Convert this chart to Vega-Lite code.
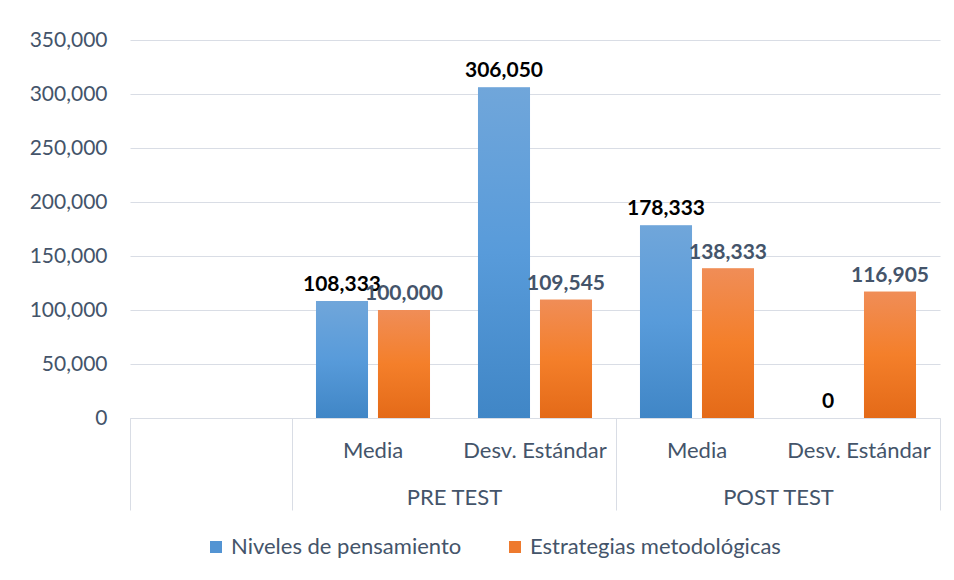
{
  "$schema": "https://vega.github.io/schema/vega-lite/v6.json",
  "width": 810,
  "height": 378,
  "autosize": {"type": "none"},
  "padding": {"left": 130, "top": 40, "right": 14, "bottom": 162},
  "background": "white",
  "config": {"font": "Lato", "view": {"stroke": null}},
  "data": {
    "values": [
      {"cat": "PRE TEST|Media", "series": "Niveles de pensamiento", "value": 108333},
      {"cat": "PRE TEST|Media", "series": "Estrategias metodológicas", "value": 100000},
      {"cat": "PRE TEST|Desv. Estándar", "series": "Niveles de pensamiento", "value": 306050},
      {"cat": "PRE TEST|Desv. Estándar", "series": "Estrategias metodológicas", "value": 109545},
      {"cat": "POST TEST|Media", "series": "Niveles de pensamiento", "value": 178333},
      {"cat": "POST TEST|Media", "series": "Estrategias metodológicas", "value": 138333},
      {"cat": "POST TEST|Desv. Estándar", "series": "Niveles de pensamiento", "value": 0},
      {"cat": "POST TEST|Desv. Estándar", "series": "Estrategias metodológicas", "value": 116905}
    ]
  },
  "resolve": {"axis": {"x": "independent"}},
  "layer": [
    {
      "mark": {"type": "bar"},
      "encoding": {
        "x": {
          "field": "cat", "type": "nominal", "sort": null,
          "scale": {"domain": ["|", "PRE TEST|Media", "PRE TEST|Desv. Estándar", "POST TEST|Media", "POST TEST|Desv. Estándar"], "paddingInner": 0, "paddingOuter": 0},
          "axis": {
            "orient": "bottom", "title": null, "grid": false, "ticks": false, "tickSize": 0,
            "domain": true, "domainColor": "#d9dde5", "domainWidth": 1,
            "labelExpr": "isString(datum.value) ? split(datum.value, '|')[1] : ''", "labelAngle": 0,
            "labelFont": "Lato", "labelFontSize": 22, "labelColor": "#44546a",
            "labelBaseline": "middle", "labelPadding": 32, "labelOverlap": false
          }
        },
        "xOffset": {
          "field": "series", "type": "nominal",
          "scale": {"domain": ["Niveles de pensamiento", "Estrategias metodológicas"], "paddingInner": 0.161, "paddingOuter": 0.387}
        },
        "y": {
          "field": "value", "type": "quantitative",
          "scale": {"domain": [0, 350000], "nice": false},
          "axis": {
            "title": null, "values": [0, 50000, 100000, 150000, 200000, 250000, 300000, 350000],
            "format": ",d", "grid": true, "gridColor": "#d9dde5", "gridWidth": 1,
            "domain": false, "ticks": false, "labelFont": "Lato", "labelFontSize": 21,
            "labelColor": "#44546a", "labelPadding": 23
          }
        },
        "color": {
          "field": "series", "type": "nominal",
          "scale": {
            "domain": ["Niveles de pensamiento", "Estrategias metodológicas"],
            "range": ["#5394d3", "#ee7a2e"]
          },
          "legend": {
            "orient": "none", "legendX": 75, "legendY": 496, "direction": "horizontal",
            "title": null, "symbolType": "square", "symbolSize": 144, "symbolStrokeWidth": 0,
            "labelFont": "Lato", "labelFontSize": 22, "labelColor": "#44546a",
            "labelOffset": 4, "columnPadding": 42, "labelLimit": 400
          }
        }
      }
    },
    {
      "transform": [{"filter": "datum.series === 'Niveles de pensamiento'"}],
      "mark": {"type": "bar", "color": {"gradient": "linear", "x1": 0, "y1": 0, "x2": 0, "y2": 1, "stops": [{"offset": 0, "color": "#70a6da"}, {"offset": 0.5, "color": "#589bda"}, {"offset": 1, "color": "#4086c6"}]}},
      "encoding": {
        "x": {"field": "cat", "type": "nominal", "sort": null, "axis": null},
        "xOffset": {"field": "series", "type": "nominal"},
        "y": {"field": "value", "type": "quantitative"}
      }
    },
    {
      "transform": [{"filter": "datum.series === 'Estrategias metodológicas'"}],
      "mark": {"type": "bar", "color": {"gradient": "linear", "x1": 0, "y1": 0, "x2": 0, "y2": 1, "stops": [{"offset": 0, "color": "#f08d57"}, {"offset": 0.5, "color": "#f47f2a"}, {"offset": 1, "color": "#e46a18"}]}},
      "encoding": {
        "x": {"field": "cat", "type": "nominal", "sort": null, "axis": null},
        "xOffset": {"field": "series", "type": "nominal"},
        "y": {"field": "value", "type": "quantitative"}
      }
    },
    {
      "transform": [{"filter": "datum.series === 'Niveles de pensamiento'"}],
      "mark": {"type": "text", "font": "Lato", "fontSize": 21, "fontWeight": "bold", "color": "#000000", "baseline": "alphabetic", "align": "center", "dy": -10},
      "encoding": {
        "x": {
          "field": "cat", "type": "nominal", "sort": null,
          "axis": {
            "orient": "bottom", "title": null, "grid": false, "domain": false,
            "values": ["|", "PRE TEST|Desv. Estándar", "POST TEST|Desv. Estándar"],
            "tickBand": "extent", "ticks": true, "tickSize": 92, "tickColor": "#d9dde5", "tickWidth": 1,
            "labelExpr": "isString(datum.value) ? split(datum.value, '|')[0] : ''", "labelAngle": 0, "labelOffset": -81,
            "labelFont": "Lato", "labelFontSize": 22, "labelColor": "#44546a",
            "labelBaseline": "middle", "labelPadding": -13, "labelOverlap": false
          }
        },
        "xOffset": {"field": "series", "type": "nominal"},
        "y": {"field": "value", "type": "quantitative"},
        "text": {"field": "value", "type": "quantitative", "format": ",d"}
      }
    },
    {
      "transform": [{"filter": "datum.series === 'Estrategias metodológicas'"}],
      "mark": {"type": "text", "font": "Lato", "fontSize": 21, "fontWeight": "bold", "color": "#44546a", "baseline": "alphabetic", "align": "center", "dy": -10},
      "encoding": {
        "x": {"field": "cat", "type": "nominal", "sort": null, "axis": null},
        "xOffset": {"field": "series", "type": "nominal"},
        "y": {"field": "value", "type": "quantitative"},
        "text": {"field": "value", "type": "quantitative", "format": ",d"}
      }
    }
  ]
}
